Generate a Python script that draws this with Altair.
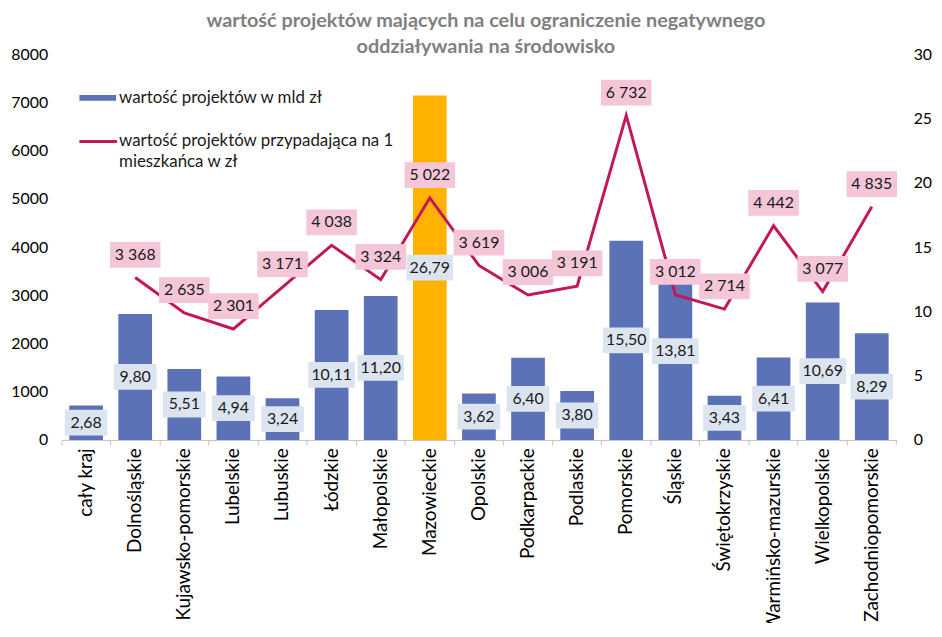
import altair as alt
import pandas as pd

regions = ["cały kraj", "Dolnośląskie", "Kujawsko-pomorskie", "Lubelskie", "Lubuskie",
           "Łódzkie", "Małopolskie", "Mazowieckie", "Opolskie", "Podkarpackie",
           "Podlaskie", "Pomorskie", "Śląskie", "Świętokrzyskie", "Warmińsko-mazurskie",
           "Wielkopolskie", "Zachodniopomorskie"]
value_bn = [2.68, 9.80, 5.51, 4.94, 3.24, 10.11, 11.20, 26.79, 3.62, 6.40,
            3.80, 15.50, 13.81, 3.43, 6.41, 10.69, 8.29]
per_capita = [None, 3368, 2635, 2301, 3171, 4038, 3324, 5022, 3619, 3006,
              3191, 6732, 3012, 2714, 4442, 3077, 4835]
left_ticks = [0, 1000, 2000, 3000, 4000, 5000, 6000, 7000, 8000]
right_ticks = [0, 5, 10, 15, 20, 25, 30]
highlight = "Mazowieckie"

title_lines = ["wartość projektów mających na celu ograniczenie negatywnego",
               "oddziaływania na środowisko"]
legend_bar = "wartość projektów w mld zł"
legend_line = ["wartość projektów przypadająca na 1", "mieszkańca w zł"]

df = pd.DataFrame({
    "region": regions,
    "value_bn": value_bn,
    "per_capita": per_capita,
    "bl": [f"{v:.2f}".replace(".", ",") for v in value_bn],
    "ll": [("" if v is None else f"{int(v):,}".replace(",", " ")) for v in per_capita],
})

FONT = "Lato"
BLUE = "#5B72B6"
ORANGE = "#FFB300"
LINE = "#C2185B"
PINK = "#F4C6D8"
LBLUE = "#DCE4F0"

x_enc = alt.X("region:N", sort=regions,
              scale=alt.Scale(paddingInner=0, paddingOuter=0),
              axis=alt.Axis(title=None, labelAngle=-90, labelFont=FONT, labelFontSize=19,
                            labelColor="#000000", domainColor="#BFBFBF", tickColor="#BFBFBF",
                            tickSize=5, bandPosition=0, labelPadding=3, labelLimit=300))

right_axis = alt.Axis(orient="right", values=right_ticks, title=None, domain=False,
                      ticks=False, tickSize=0, grid=False, labelPadding=17,
                      labelFont=FONT, labelFontSize=16, labelColor="#000000")
left_axis = alt.Axis(orient="left", values=left_ticks, title=None, domain=False,
                     ticks=False, tickSize=0, grid=False, labelPadding=14, format="d",
                     labelFont=FONT, labelFontSize=16, labelColor="#000000")

bscale = alt.Scale(domain=[0, 30], nice=False)
lscale = alt.Scale(domain=[0, 8000], nice=False)

base = alt.Chart(df)

bars = base.mark_bar(width=34).encode(
    x=x_enc,
    y=alt.Y("value_bn:Q", scale=bscale, axis=right_axis),
    color=alt.condition(alt.datum.region == highlight, alt.value(ORANGE), alt.value(BLUE)),
)

bl_base = base.transform_calculate(mid="datum.value_bn / 2", n="length(datum.bl)")
bl_box4 = bl_base.transform_filter("datum.n <= 4").mark_rect(
    width=43, yOffset=-13, y2Offset=13, color=LBLUE).encode(
    x=x_enc, y=alt.Y("mid:Q", scale=bscale, axis=right_axis), y2="mid:Q")
bl_box5 = bl_base.transform_filter("datum.n > 4").mark_rect(
    width=47, yOffset=-13, y2Offset=13, color=LBLUE).encode(
    x=x_enc, y=alt.Y("mid:Q", scale=bscale, axis=right_axis), y2="mid:Q")
bl_text = bl_base.mark_text(font=FONT, fontSize=16, color="#1a1a1a", baseline="middle").encode(
    x=x_enc, y=alt.Y("mid:Q", scale=bscale, axis=right_axis), text="bl:N")

bar_group = alt.layer(bars, bl_box4, bl_box5, bl_text)

valid = base.transform_filter("isValid(datum.per_capita)")
line = valid.mark_line(color=LINE, strokeWidth=3).encode(
    x=x_enc, y=alt.Y("per_capita:Q", scale=lscale, axis=left_axis))
ll_box = valid.mark_rect(width=51, yOffset=-36, y2Offset=-10, color=PINK).encode(
    x=x_enc, y=alt.Y("per_capita:Q", scale=lscale, axis=left_axis), y2="per_capita:Q")
ll_text = valid.mark_text(font=FONT, fontSize=16, color="#1a1a1a", baseline="middle", dy=-23).encode(
    x=x_enc, y=alt.Y("per_capita:Q", scale=lscale, axis=left_axis), text="ll:N")

line_group = alt.layer(line, ll_box, ll_text)

one = pd.DataFrame({"k": [0]})
end_tick = alt.Chart(one).mark_rule(color="#BFBFBF", strokeWidth=1).encode(
    x=alt.value(842), y=alt.value(389), y2=alt.value(394))
leg_rect = alt.Chart(one).mark_rect(color=BLUE).encode(
    x=alt.value(18), x2=alt.value(55), y=alt.value(41), y2=alt.value(47))
leg_t1 = alt.Chart(pd.DataFrame({"t": [legend_bar]})).mark_text(
    font=FONT, fontSize=17, align="left", baseline="middle", color="#1a1a1a").encode(
    x=alt.value(58), y=alt.value(44), text="t:N")
leg_rule = alt.Chart(one).mark_rule(color=LINE, strokeWidth=3).encode(
    x=alt.value(18), x2=alt.value(56), y=alt.value(88))
leg_t2 = alt.Chart(pd.DataFrame({"t": [legend_line[0]]})).mark_text(
    font=FONT, fontSize=17, align="left", baseline="middle", color="#1a1a1a").encode(
    x=alt.value(58), y=alt.value(88), text="t:N")
leg_t3 = alt.Chart(pd.DataFrame({"t": [legend_line[1]]})).mark_text(
    font=FONT, fontSize=17, align="left", baseline="middle", color="#1a1a1a").encode(
    x=alt.value(58), y=alt.value(109), text="t:N")

chart = alt.layer(bar_group, line_group, end_tick, leg_rect, leg_t1, leg_rule, leg_t2, leg_t3).resolve_scale(
    y="independent"
).properties(
    width=842, height=389,
    autosize=alt.AutoSizeParams(type="none"),
    padding={"left": 54, "top": 44, "right": 38, "bottom": 182},
    title=alt.TitleParams(text=title_lines, font=FONT, fontSize=20, fontWeight="bold",
                          color="#808080", anchor="middle", dx=7, dy=15, offset=4, lineHeight=26),
    background="white",
).configure_view(stroke=None)

chart.save("out.html", embed_options={"renderer": "svg", "actions": False})
